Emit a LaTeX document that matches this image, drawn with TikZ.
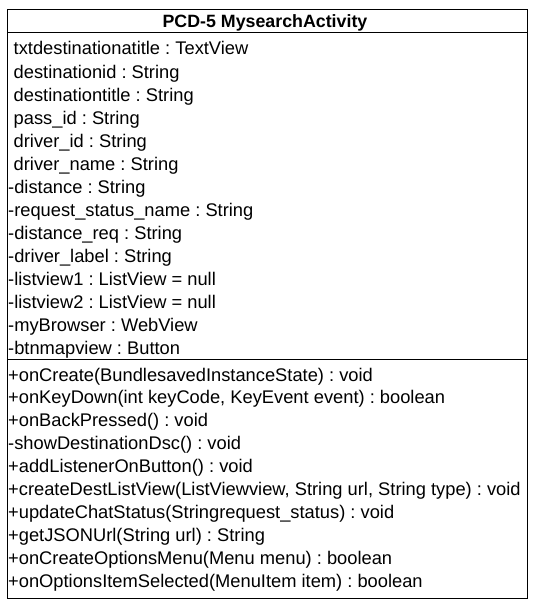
\documentclass[tikz,border=0pt]{standalone}
\usepackage{fontspec}
\setmainfont{Liberation Sans}
\frenchspacing
\begin{document}
\begin{tikzpicture}[x=1pt,y=-1pt,
  row/.style={anchor=base west,inner sep=0pt,font=\fontsize{18.3}{22}\selectfont},
  titletext/.style={anchor=base,inner sep=0pt,font=\fontsize{17.8}{22}\selectfont\bfseries},
  frame/.style={line width=1.3pt}]
\useasboundingbox (0,0) rectangle (538,610);
% class box
\draw[frame] (7.3,9.7) rectangle (527.3,598.8);
\draw[frame] (7.3,32.5) -- (527.3,32.5);
\draw[frame] (7.3,359.3) -- (527.3,359.3);
% title
\node[titletext] (title) at (265,27.3) {PCD-5 MysearchActivity};
% attributes
\node[row] (a0)  at (13.5,55)  {txtdestinationatitle : TextView};
\node[row] (a1)  at (13.5,78)  {destinationid : String};
\node[row] (a2)  at (13.5,101) {destinationtitle : String};
\node[row] (a3)  at (13.5,124) {pass\_id : String};
\node[row] (a4)  at (13.5,147) {driver\_id : String};
\node[row] (a5)  at (13.5,170) {driver\_name : String};
\node[row] (a6)  at (8,193) {-distance : String};
\node[row] (a7)  at (8,216) {-request\_status\_name : String};
\node[row] (a8)  at (8,239) {-distance\_req : String};
\node[row] (a9)  at (8,262) {-driver\_label : String};
\node[row] (a10) at (8,285) {-listview1 : ListView = null};
\node[row] (a11) at (8,308) {-listview2 : ListView = null};
\node[row] (a12) at (8,331) {-myBrowser : WebView};
\node[row] (a13) at (8,354) {-btnmapview : Button};
% operations
\node[row] (o0) at (8,381)   {+onCreate(BundlesavedInstanceState) : void};
\node[row] (o1) at (8,403.9) {+onKeyDown(int keyCode, KeyEvent event) : boolean};
\node[row] (o2) at (8,426.8) {+onBackPressed() : void};
\node[row] (o3) at (8,449.7) {-showDestinationDsc() : void};
\node[row] (o4) at (8,472.6) {+addListenerOnButton() : void};
\node[row] (o5) at (8,495.5) {+createDestListView(ListViewview, String url, String type) : void};
\node[row] (o6) at (8,518.4) {+updateChatStatus(Stringrequest\_status) : void};
\node[row] (o7) at (8,541.3) {+getJSONUrl(String url) : String};
\node[row] (o8) at (8,564.2) {+onCreateOptionsMenu(Menu menu) : boolean};
\node[row] (o9) at (8,587.1) {+onOptionsItemSelected(MenuItem item) : boolean};
\end{tikzpicture}
\end{document}
